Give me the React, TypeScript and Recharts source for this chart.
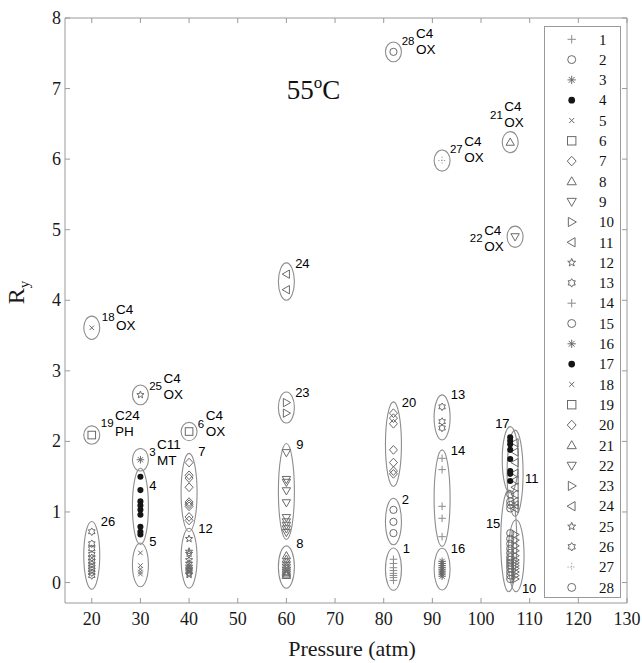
import { ScatterChart, Scatter, XAxis, YAxis, Legend } from 'recharts';

const X_MIN = 14.5;
const X_MAX = 130;
const Y_MIN = -0.29;
const Y_MAX = 8;
const PLOT_HEIGHT = 585;
const PX_PER_Y = PLOT_HEIGHT / (Y_MAX - Y_MIN);

const xTicks = [20, 30, 40, 50, 60, 70, 80, 90, 100, 110, 120, 130];
const yTicks = [0, 1, 2, 3, 4, 5, 6, 7, 8];

const seriesIds = [1, 2, 3, 4, 5, 6, 7, 8, 9, 10, 11, 12, 13, 14, 15, 16, 17, 18, 19, 20, 21, 22, 23, 24, 25, 26, 27, 28];

// pressure (atm) of each series
const pressure = [82, 82, 30, 30, 30, 40, 40, 60, 60, 107, 107, 40, 92, 92, 106, 92, 106, 20, 20, 82, 106, 107, 60, 60, 30, 20, 92, 82];

// Ry values per series
const s1 = [0.33, 0.27, 0.21, 0.17, 0.13, 0.1, 0.07, 0.03];
const s2 = [1.03, 0.86, 0.7];
const s3 = [1.74];
const s4 = [1.5, 1.31, 1.15, 1.09, 1.03, 0.96, 0.79, 0.72, 0.68];
const s5 = [0.42, 0.24, 0.19, 0.15, 0.12];
const s6 = [2.14];
const s7 = [1.7, 1.52, 1.48, 1.35, 1.14, 1.11, 1.08, 0.93, 0.88];
const s8 = [0.38, 0.33, 0.29, 0.25, 0.22, 0.19, 0.16, 0.14, 0.12, 0.1];
const s9 = [1.84, 1.46, 1.42, 1.3, 1.13, 0.92, 0.86, 0.81, 0.76, 0.71];
const s10 = [0.68, 0.6, 0.52, 0.45, 0.38, 0.32, 0.28, 0.24, 0.2, 0.15, 0.1, 0.05];
const s11 = [1.98, 1.85, 1.7, 1.55, 1.45, 1.35, 1.25, 1.15, 1.1, 1.05];
const s12 = [0.62, 0.44, 0.41, 0.32, 0.27, 0.23, 0.2, 0.18, 0.16, 0.13, 0.11];
const s13 = [2.49, 2.28, 2.19];
const s14 = [1.76, 1.6, 1.08, 0.91, 0.65];
const s15 = [1.25, 1.15, 1.1, 1.05, 0.7, 0.62, 0.55, 0.48, 0.42, 0.36, 0.32, 0.28, 0.24, 0.2, 0.15, 0.1, 0.05];
const s16 = [0.3, 0.27, 0.24, 0.21, 0.18, 0.15, 0.12, 0.09];
const s17 = [2.06, 2.01, 1.96, 1.88, 1.75, 1.58, 1.54, 1.44];
const s18 = [3.61];
const s19 = [2.09];
const s20 = [2.4, 2.33, 2.25, 1.88, 1.7, 1.58, 1.54];
const s21 = [6.24];
const s22 = [4.9];
const s23 = [2.55, 2.4];
const s24 = [4.37, 4.15];
const s25 = [2.66];
const s26 = [0.72, 0.55, 0.48, 0.4, 0.35, 0.3, 0.26, 0.22, 0.18, 0.14, 0.1];
const s27 = [5.98];
const s28 = [7.52];
const ryBySeries = [s1, s2, s3, s4, s5, s6, s7, s8, s9, s10, s11, s12, s13, s14, s15, s16, s17, s18, s19, s20, s21, s22, s23, s24, s25, s26, s27, s28];

// group ellipses (pressure, Ry range)
const ellX = [82, 82, 30, 30, 30, 40, 40, 60, 60, 107.2, 107, 40, 92, 92, 105.7, 92, 106, 20, 20, 82, 106, 107, 60, 60, 30, 20, 92, 82];
const ellLo = [-0.11, 0.535, 1.58, 0.54, -0.06, 2.01, 0.72, -0.08, 0.61, -0.13, 0.94, -0.08, 2.02, 0.51, -0.13, -0.105, 1.27, 3.445, 1.96, 1.36, 6.09, 4.75, 2.26, 4.0, 2.52, -0.095, 5.83, 7.38];
const ellHi = [0.49, 1.195, 1.9, 1.62, 0.56, 2.27, 1.83, 0.52, 1.97, 0.89, 2.16, 0.77, 2.66, 1.88, 1.31, 0.485, 2.21, 3.775, 2.22, 2.56, 6.39, 5.05, 2.7, 4.53, 2.8, 0.865, 6.13, 7.66];

// group labels
const labelX = [83.9, 83.7, 31.8, 31.8, 31.8, 41.8, 41.9, 62.0, 62.0, 108.4, 109.05, 41.9, 93.8, 93.8, 101.0, 93.8, 102.9, 22.05, 21.85, 83.7, 101.85, 97.7, 61.8, 61.8, 31.8, 21.85, 93.6, 83.7];
const labelY = [0.49, 1.18, 1.85, 1.37, 0.58, 2.25, 1.86, 0.56, 1.96, -0.08, 1.48, 0.77, 2.66, 1.87, 0.84, 0.49, 2.26, 3.76, 2.26, 2.55, 6.63, 4.88, 2.69, 4.52, 2.78, 0.865, 6.14, 7.67];
const labelSup = ['', '', 'C11', '', '', 'C4', '', '', '', '', '', '', '', '', '', '', '', 'C4', 'C24', '', 'C4', 'C4', '', '', 'C4', '', 'C4', 'C4'];
const labelSub = ['', '', 'MT', '', '', 'OX', '', '', '', '', '', '', '', '', '', '', '', 'OX', 'PH', '', 'OX', 'OX', '', '', 'OX', '', 'OX', 'OX'];

const markerKinds = [
  'plus', 'circle', 'asterisk', 'dot', 'cross', 'square', 'diamond', 'triUp', 'triDown', 'triRight', 'triLeft', 'penta', 'hexa', 'plus',
  'circle', 'asterisk', 'dot', 'cross', 'square', 'diamond', 'triUp', 'triDown', 'triRight', 'triLeft', 'penta', 'hexa', 'dotted', 'circle',
];

const title = [{ x: 60.07, y: 6.85 }];

const FRAME = '#9a9a9a';
const MARK = '#6a6a6a';
const SERIF = "'Liberation Serif', 'Times New Roman', serif";
const SANS = "'Liberation Sans', Arial, sans-serif";

function starPoints(cx: number, cy: number, n: number, outer: number, inner: number) {
  const pts: string[] = [];
  for (let k = 0; k < 2 * n; k++) {
    const r = k % 2 ? inner : outer;
    const a = -Math.PI / 2 + (k * Math.PI) / n;
    pts.push(`${cx + r * Math.cos(a)},${cy + r * Math.sin(a)}`);
  }
  return pts.join(' ');
}

function Marker({ kind, cx, cy, s = 3.8 }: { kind: string; cx: number; cy: number; s?: number }) {
  const common = { fill: 'none', stroke: MARK, strokeWidth: 1 };
  switch (kind) {
    case 'plus':
      return <path d={`M${cx - s},${cy}H${cx + s}M${cx},${cy - s}V${cy + s}`} stroke="#8c8c8c" strokeWidth={1} />;
    case 'circle':
      return <circle cx={cx} cy={cy} r={s * 0.95} {...common} />;
    case 'asterisk': {
      const d = s * 0.7;
      return (
        <path
          d={`M${cx - s},${cy}H${cx + s}M${cx},${cy - s}V${cy + s}M${cx - d},${cy - d}L${cx + d},${cy + d}M${cx - d},${cy + d}L${cx + d},${cy - d}`}
          stroke={MARK}
          strokeWidth={1}
        />
      );
    }
    case 'dot':
      return <circle cx={cx} cy={cy} r={s * 0.8} fill="#151515" />;
    case 'cross': {
      const d = s * 0.6;
      return <path d={`M${cx - d},${cy - d}L${cx + d},${cy + d}M${cx - d},${cy + d}L${cx + d},${cy - d}`} stroke={MARK} strokeWidth={1} />;
    }
    case 'square':
      return <rect x={cx - s} y={cy - s} width={2 * s} height={2 * s} {...common} />;
    case 'diamond':
      return <polygon points={`${cx},${cy - s * 1.15} ${cx + s * 1.05},${cy} ${cx},${cy + s * 1.15} ${cx - s * 1.05},${cy}`} {...common} />;
    case 'triUp':
      return <polygon points={`${cx},${cy - s * 1.1} ${cx + s * 1.1},${cy + s * 0.8} ${cx - s * 1.1},${cy + s * 0.8}`} {...common} />;
    case 'triDown':
      return <polygon points={`${cx},${cy + s * 1.1} ${cx + s * 1.1},${cy - s * 0.8} ${cx - s * 1.1},${cy - s * 0.8}`} {...common} />;
    case 'triRight':
      return <polygon points={`${cx + s * 1.1},${cy} ${cx - s * 0.8},${cy - s * 1.1} ${cx - s * 0.8},${cy + s * 1.1}`} {...common} />;
    case 'triLeft':
      return <polygon points={`${cx - s * 1.1},${cy} ${cx + s * 0.8},${cy - s * 1.1} ${cx + s * 0.8},${cy + s * 1.1}`} {...common} />;
    case 'penta':
      return <polygon points={starPoints(cx, cy, 5, s, s * 0.42)} {...common} />;
    case 'hexa':
      return <polygon points={starPoints(cx, cy, 6, s, s * 0.6)} {...common} />;
    case 'dotted':
      return (
        <path
          d={`M${cx - s},${cy}H${cx + s}M${cx},${cy - s}V${cy + s}`}
          stroke="#9a9a9a"
          strokeWidth={1}
          strokeDasharray="1.2 1.6"
        />
      );
    default:
      return <circle cx={cx} cy={cy} r={2} fill={MARK} />;
  }
}

function EllipseShape(props: any) {
  const { cx, cy, payload } = props;
  const ry = ((payload.hi - payload.lo) / 2) * PX_PER_Y;
  return <ellipse cx={cx} cy={cy} rx={8} ry={ry} fill="none" stroke="#8d8d8d" strokeWidth={1.1} />;
}

function GroupLabel(props: any) {
  const { cx, cy, payload } = props;
  if (!payload.sup) {
    return (
      <text x={cx} y={cy} dy="0.35em" fontSize={13} style={{ fontFamily: SANS }} fill="#000">
        {payload.text}
      </text>
    );
  }
  const w = payload.text.length * 6.4;
  return (
    <g style={{ fontFamily: SANS }} fill="#000">
      <text x={cx} y={cy} dy="0.35em" fontSize={11.5}>{payload.text}</text>
      <text x={cx + w + 1.5} y={cy - 8} dy="0.35em" fontSize={13.5}>{payload.sup}</text>
      <text x={cx + w + 1.5} y={cy + 8} dy="0.35em" fontSize={13.5}>{payload.sub}</text>
    </g>
  );
}

function TitleShape(props: any) {
  const { cx, cy } = props;
  return (
    <text x={cx} y={cy} style={{ fontFamily: SERIF }} fontSize={27} fill="#111">
      55<tspan fontSize={17} dy={-11}>o</tspan>
      <tspan dy={11}>C</tspan>
    </text>
  );
}

function BottomTick(props: any) {
  const { x, y, payload } = props;
  return (
    <g>
      <line x1={x} y1={y} x2={x} y2={y - 5} stroke={FRAME} />
      <text x={x} y={y + 22} textAnchor="middle" style={{ fontFamily: SERIF }} fontSize={18} fill="#1a1a1a">
        {payload.value}
      </text>
    </g>
  );
}

function LeftTick(props: any) {
  const { x, y, payload } = props;
  return (
    <g>
      <line x1={x} y1={y} x2={x + 5} y2={y} stroke={FRAME} />
      <text x={x - 4} y={y + 6} textAnchor="end" style={{ fontFamily: SERIF }} fontSize={18} fill="#1a1a1a">
        {payload.value}
      </text>
    </g>
  );
}

function TopTick(props: any) {
  const { x, y } = props;
  return <line x1={x} y1={y} x2={x} y2={y + 5} stroke={FRAME} />;
}

function RightTick(props: any) {
  const { x, y } = props;
  return <line x1={x} y1={y} x2={x - 5} y2={y} stroke={FRAME} />;
}

function LegendBox() {
  return (
    <svg width={77} height={572} style={{ display: 'block' }}>
      <rect x={0.5} y={0.5} width={76} height={571} fill="#fff" stroke={FRAME} />
      {seriesIds.map((id, i) => {
        const cy = 13.3 + i * 20.3;
        return (
          <g key={id}>
            <Marker kind={markerKinds[i]} cx={27.7} cy={cy} s={4.2} />
            <text x={55} y={cy} dy="0.35em" style={{ fontFamily: SERIF }} fontSize={15} fill="#111">
              {id}
            </text>
          </g>
        );
      })}
    </svg>
  );
}

function XTitle(props: any) {
  const vb = props.viewBox;
  return (
    <text x={vb.x + vb.width / 2 + 6} y={656} textAnchor="middle" style={{ fontFamily: SERIF }} fontSize={22} fill="#1a1a1a">
      Pressure (atm)
    </text>
  );
}

function YTitle(props: any) {
  const vb = props.viewBox;
  const cx = 24;
  const cy = vb.y + vb.height / 2 - 18;
  return (
    <text x={cx} y={cy} transform={`rotate(-90 ${cx} ${cy})`} textAnchor="middle" style={{ fontFamily: SERIF }} fontSize={24} fill="#1a1a1a">
      R<tspan fontSize={15} dy={5}>y</tspan>
    </text>
  );
}

export default function App() {
  const ellipses = seriesIds.map((id, i) => ({ x: ellX[i], y: (ellLo[i] + ellHi[i]) / 2, lo: ellLo[i], hi: ellHi[i] }));
  const labels = seriesIds.map((id, i) => ({ x: labelX[i], y: labelY[i], text: String(id), sup: labelSup[i], sub: labelSub[i] }));

  return (
    <div style={{ position: 'absolute', left: 0, top: 0, width: 642, height: 663, background: '#fff' }}>
      <ScatterChart width={642} height={663} margin={{ top: 17, right: 14, bottom: 30, left: 5 }}>
        <XAxis
          type="number"
          dataKey="x"
          domain={[X_MIN, X_MAX]}
          ticks={xTicks}
          allowDataOverflow
          height={30}
          tickSize={0}
          tickMargin={0}
          tickLine={false}
          axisLine={{ stroke: FRAME }}
          tick={BottomTick}
          label={XTitle}
        />
        <XAxis
          xAxisId="top"
          orientation="top"
          type="number"
          dataKey="x"
          domain={[X_MIN, X_MAX]}
          ticks={xTicks}
          allowDataOverflow
          height={1}
          tickSize={0}
          tickMargin={0}
          tickLine={false}
          axisLine={{ stroke: FRAME }}
          tick={TopTick}
        />
        <YAxis
          type="number"
          dataKey="y"
          domain={[Y_MIN, Y_MAX]}
          ticks={yTicks}
          allowDataOverflow
          width={60}
          tickSize={0}
          tickMargin={0}
          tickLine={false}
          axisLine={{ stroke: FRAME }}
          tick={LeftTick}
          label={YTitle}
        />
        <YAxis
          yAxisId="right"
          orientation="right"
          type="number"
          dataKey="y"
          domain={[Y_MIN, Y_MAX]}
          ticks={yTicks}
          allowDataOverflow
          width={1}
          tickSize={0}
          tickMargin={0}
          tickLine={false}
          axisLine={{ stroke: FRAME }}
          tick={RightTick}
        />
        <Scatter name="groups" data={ellipses} shape={EllipseShape} legendType="none" isAnimationActive={false} />
        {seriesIds.map((id, i) => (
          <Scatter
            key={id}
            name={String(id)}
            data={ryBySeries[i].map((v) => ({ x: pressure[i], y: v }))}
            shape={(p: any) => <Marker kind={markerKinds[i]} cx={p.cx} cy={p.cy} />}
            isAnimationActive={false}
          />
        ))}
        <Scatter name="labels" data={labels} shape={GroupLabel} legendType="none" isAnimationActive={false} />
        <Scatter name="title" data={title} shape={TitleShape} legendType="none" isAnimationActive={false} />
        <Legend
          layout="vertical"
          align="center"
          verticalAlign="middle"
          wrapperStyle={{ position: 'absolute', left: 544, top: 26, width: 77, height: 572 }}
          content={() => <LegendBox />}
        />
      </ScatterChart>
    </div>
  );
}
